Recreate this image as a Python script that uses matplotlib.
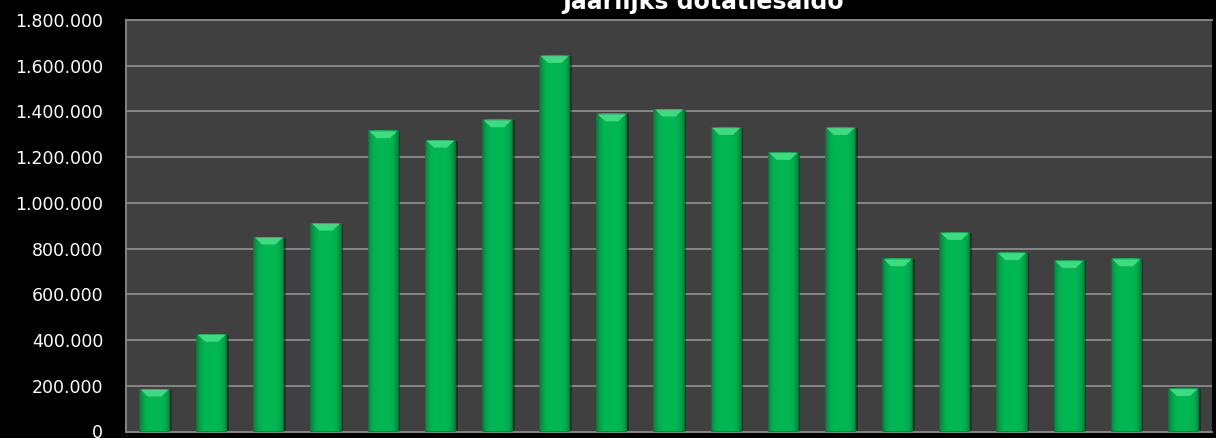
import matplotlib
matplotlib.use("Agg")
import matplotlib.pyplot as plt
from matplotlib.ticker import FuncFormatter
from matplotlib.patches import Polygon
import numpy as np

# ---- data ----
title = "Jaarlijks dotatiesaldo"
categories = [str(i) for i in range(1, 20)]
values = [183000, 423000, 848000, 909000, 1313000, 1272000, 1361000, 1642000,
          1387000, 1408000, 1327000, 1218000, 1327000, 753000, 868000, 780000,
          745000, 753000, 185000]
y_ticks = [0, 200000, 400000, 600000, 800000, 1000000, 1200000, 1400000, 1600000, 1800000]

W, H = 1216, 438
fig = plt.figure(figsize=(W / 100, H / 100), dpi=100, facecolor="black")
ax = fig.add_axes([126 / W, (H - 431.5) / H, (1212 - 126) / W, (431.5 - 20) / H])
ax.set_facecolor("#404040")

x = np.arange(len(categories))
bw = 0.51

# shadow
ax.bar(x + 0.045, values, width=bw, color="#1a1a1a", alpha=0.5, zorder=2, linewidth=0)
# main bars
ax.bar(x, values, width=bw, color="#00b451", edgecolor="#0a7d3a",
       linewidth=1.2, zorder=3)

# subtle horizontal shading inside bars
grad = np.linspace(-1, 1, 64)
shade = 1 - 0.22 * grad ** 4
base = np.array([0x02, 0xb8, 0x53]) / 255.0
img = np.clip(base[None, :] * shade[:, None], 0, 1)[None, :, :]
for xi, v in zip(x, values):
    ax.imshow(img, extent=[xi - bw / 2 + 0.012, xi + bw / 2 - 0.012, 0, v],
              aspect="auto", zorder=3.5, interpolation="bilinear")

# top bevel highlight
bevel = 30000
for xi, v in zip(x, values):
    poly = Polygon([(xi - bw / 2 + 0.012, v), (xi + bw / 2 - 0.012, v),
                    (xi + bw / 2 - 0.14, v - bevel), (xi - bw / 2 + 0.14, v - bevel)],
                   closed=True, facecolor="#3ddc80", edgecolor="none", zorder=4)
    ax.add_patch(poly)

ax.set_xlim(-0.5, len(categories) - 0.5)
ax.set_ylim(0, 1800000)
ax.set_yticks(y_ticks)
ax.yaxis.set_major_formatter(FuncFormatter(lambda v, p: f"{int(v):,}".replace(",", ".")))
ax.set_xticks(x)
ax.set_xticklabels([])
ax.tick_params(axis="x", length=0)
ax.tick_params(axis="y", length=0, pad=16.5, labelcolor="white", labelsize=12.5)

ax.grid(axis="y", color="#858585", linewidth=1.4, zorder=1)
ax.set_axisbelow(True)
ax.spines["right"].set_visible(False)
for s in ["left", "top", "bottom"]:
    ax.spines[s].set_color("#858585")
    ax.spines[s].set_linewidth(1.4)

fig.text(703 / W, (H - 9) / H, title, color="white", fontsize=17,
         fontweight="bold", ha="center", va="baseline")

fig.savefig("out.png", dpi=100, facecolor="black")
